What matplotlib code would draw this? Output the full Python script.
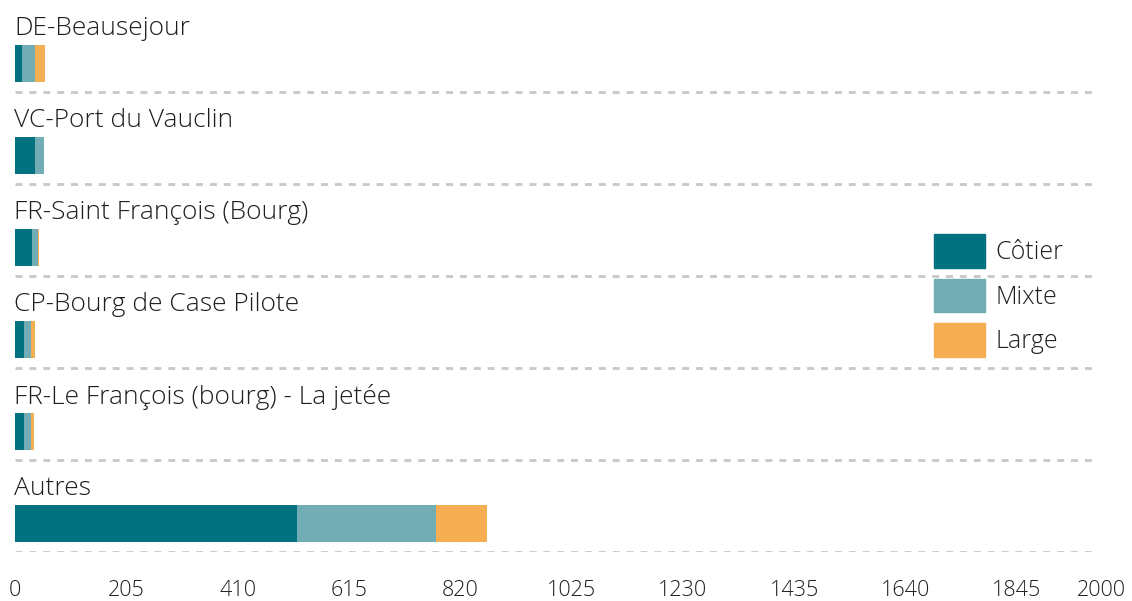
import matplotlib.pyplot as plt
from matplotlib.patches import Patch

plt.rcParams['font.family'] = ['Open Sans', 'DejaVu Sans']

sites = ['DE-Beausejour', 'VC-Port du Vauclin', 'FR-Saint François (Bourg)',
         'CP-Bourg de Case Pilote', 'FR-Le François (bourg) - La jetée', 'Autres']
cotier = [13, 37, 31, 17, 17, 519]
mixte = [24, 16, 11, 13, 13, 256]
large = [18, 0, 2, 6, 5, 95]
ticks = [0, 205, 410, 615, 820, 1025, 1230, 1435, 1640, 1845, 2000]

colors = {'Côtier': '#027280', 'Mixte': '#72adb6', 'Large': '#f5ae52'}
txt = '#1e1e1e'

fig = plt.figure(figsize=(11.32, 6.01), dpi=100)
ax = fig.add_axes([15 / 1132, 1 - 552 / 601, 1086 / 1132, 552 / 601])

rows = [i + 0.69 for i in range(len(sites))]
left = [0] * len(sites)
for name, vals in [('Côtier', cotier), ('Mixte', mixte), ('Large', large)]:
    ax.barh(rows, vals, left=left, height=0.40, color=colors[name])
    left = [a + b for a, b in zip(left, vals)]

for i, s in enumerate(sites):
    ax.text(-2, i + 0.31, s, va='center', ha='left', fontsize=19,
            fontweight='light', color=txt)
    ax.hlines(i + 1, 0, 1989, color='#c8c8c8', lw=2, linestyles=(0, (2.5, 2.5)))

ax.set_xlim(0, 2000)
ax.set_ylim(len(sites), 0)
ax.set_xticks(ticks)
ax.set_xticklabels([str(t) for t in ticks], fontsize=15.5, fontweight='light', color=txt)
ax.tick_params(axis='x', length=0, pad=20)
ax.set_yticks([])
for sp in ax.spines.values():
    sp.set_visible(False)

handles = [Patch(color=c, label=n) for n, c in colors.items()]
leg = ax.legend(handles=handles, loc='upper left', bbox_to_anchor=(934 / 1132, 1 - 234 / 601),
                bbox_transform=fig.transFigure, frameon=False, fontsize=18,
                handlelength=2.05, handleheight=1.7, labelspacing=0.43, handletextpad=0.4,
                borderpad=0, borderaxespad=0)
for t in leg.get_texts():
    t.set_fontweight('light')
    t.set_color(txt)

plt.savefig('out.png')
